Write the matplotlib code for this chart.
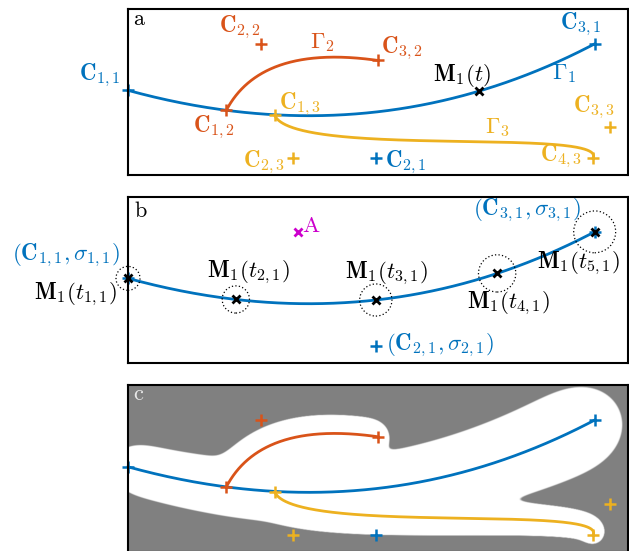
import numpy as np
import matplotlib
matplotlib.use("Agg")
import matplotlib.pyplot as plt
from matplotlib.patches import Circle
from math import comb

plt.rcParams['mathtext.fontset'] = 'cm'
plt.rcParams['font.family'] = 'serif'

BLUE = '#0072BD'
RED = '#D95319'
YELLOW = '#EDB120'
MAGENTA = '#CC00CC'
GRAY = '#808080'

# Bezier control points of the three trajectories (Gamma_1, Gamma_2, Gamma_3)
ctrl_1 = np.array([[0.00, 0.51], [1.49, 0.10], [2.80, 0.79]])
ctrl_2 = np.array([[0.59, 0.39], [0.80, 0.79], [1.50, 0.69]])
ctrl_3 = np.array([[0.88, 0.36], [0.99, 0.10], [2.89, 0.29], [2.79, 0.10]])

# spread attached to each control point
sigma_1 = np.array([0.072, 0.093, 0.126])
sigma_2 = np.array([0.055, 0.057, 0.050])
sigma_3 = np.array([0.056, 0.052, 0.046, 0.036])

# parameter values of the marked points on Gamma_1
t_single = 0.74
t_points = np.array([0.0, 0.22, 0.515, 0.78, 1.0])
point_A = np.array([1.02, 0.79])

# occupancy map threshold
field_level = 0.10


def bezier(ctrl, t):
    ctrl = np.asarray(ctrl, dtype=float)
    if ctrl.ndim == 1:
        ctrl = ctrl[:, None]
    n = len(ctrl) - 1
    t = np.atleast_1d(t)[:, None]
    out = np.zeros((t.shape[0], ctrl.shape[1]))
    for k in range(n + 1):
        out += comb(n, k) * t**k * (1 - t)**(n - k) * ctrl[k]
    return out


def tube_field(ctrl, sig, X, Y, n=400):
    """Gaussian line density along a Bezier curve with varying width."""
    t = np.linspace(0, 1, n)
    P = bezier(ctrl, t)
    S = bezier(sig, t)[:, 0]
    d = np.gradient(P, t, axis=0)
    ds = np.hypot(d[:, 0], d[:, 1]) * (t[1] - t[0])
    ds[0] *= 0.5
    ds[-1] *= 0.5
    F = np.zeros_like(X)
    for (px, py), s, w in zip(P, S, ds):
        F += w / (s * np.sqrt(2 * np.pi)) * np.exp(-((X - px)**2 + (Y - py)**2) / (2 * s * s))
    return F


curves = [(ctrl_1, sigma_1, BLUE), (ctrl_2, sigma_2, RED), (ctrl_3, sigma_3, YELLOW)]
tt = np.linspace(0, 1, 300)

fig = plt.figure(figsize=(6.29, 5.51), dpi=100)
W, H = 629.0, 551.0
left, width = 128 / W, 500 / W
ax_a = fig.add_axes([left, (H - 175) / H, width, 166 / H])
ax_b = fig.add_axes([left, (H - 363) / H, width, 166 / H])
ax_c = fig.add_axes([left, (H - 552) / H, width, 167 / H])

for ax in (ax_a, ax_b, ax_c):
    ax.set_xlim(0, 3)
    ax.set_ylim(0, 1)
    ax.set_xticks([])
    ax.set_yticks([])
    for sp in ax.spines.values():
        sp.set_linewidth(1.5)
        sp.set_color('black')
        sp.set_zorder(8)

FS = 16.5
mk = dict(marker='+', ms=9, mew=1.8, ls='none', clip_on=False, zorder=5)
xk = dict(marker='x', ms=6, mew=2, ls='none', clip_on=False, zorder=6)


def cb(i, j):
    return r'\mathbf{C}_{\mathbf{%d,%d}}' % (i, j)


def mb(sub):
    return r'$\mathbf{M}_{\mathbf{1}}(%s)$' % sub


# ---------- panel a ----------
ax = ax_a
for ctrl, sig, col in curves:
    P = bezier(ctrl, tt)
    ax.plot(P[:, 0], P[:, 1], color=col, lw=2, clip_on=False, zorder=3)
    ax.plot(ctrl[:, 0], ctrl[:, 1], color=col, **mk)
M = bezier(ctrl_1, t_single)[0]
ax.plot(M[0], M[1], color='black', **xk)

labels_a = [
    ('$' + cb(1, 1) + '$', -0.168, 0.60, BLUE),
    ('$' + cb(2, 1) + '$', 1.668, 0.078, BLUE),
    ('$' + cb(3, 1) + '$', 2.718, 0.906, BLUE),
    (r'$\Gamma_1$', 2.616, 0.612, BLUE),
    ('$' + cb(1, 2) + '$', 0.516, 0.288, RED),
    ('$' + cb(2, 2) + '$', 0.672, 0.888, RED),
    ('$' + cb(3, 2) + '$', 1.644, 0.762, RED),
    (r'$\Gamma_2$', 1.164, 0.798, RED),
    ('$' + cb(1, 3) + '$', 1.032, 0.426, YELLOW),
    ('$' + cb(2, 3) + '$', 0.816, 0.078, YELLOW),
    ('$' + cb(3, 3) + '$', 2.796, 0.408, YELLOW),
    ('$' + cb(4, 3) + '$', 2.598, 0.114, YELLOW),
    (r'$\Gamma_3$', 2.214, 0.288, YELLOW),
    (mb('t'), 2.004, 0.60, 'black'),
]
for s, x, y, c in labels_a:
    ax.text(x, y, s, color=c, fontsize=FS, ha='center', va='center', zorder=7)
ax.text(0.01, 0.905, r'$\mathrm{a}$', transform=ax.transAxes, fontsize=16,
        ha='left', va='baseline')

# ---------- panel b ----------
ax = ax_b
P = bezier(ctrl_1, tt)
ax.plot(P[:, 0], P[:, 1], color=BLUE, lw=2, clip_on=False, zorder=3)
ax.plot(ctrl_1[:, 0], ctrl_1[:, 1], color=BLUE, **mk)
pts = bezier(ctrl_1, t_points)
rad = bezier(sigma_1, t_points)[:, 0]
for (px, py), r in zip(pts, rad):
    ax.add_patch(Circle((px, py), r, fill=False, ec='black', lw=0.9,
                        ls=(0, (1.0, 1.8)), clip_on=False, zorder=4))
ax.plot(pts[:, 0], pts[:, 1], color='black', **xk)
ax.plot(point_A[0], point_A[1], color=MAGENTA, **xk)

labels_b = [
    ('$(' + cb(1, 1) + r',\sigma_{1,1})$', -0.372, 0.648, BLUE),
    ('$(' + cb(3, 1) + r',\sigma_{3,1})$', 2.394, 0.918, BLUE),
    ('$(' + cb(2, 1) + r',\sigma_{2,1})$', 1.870, 0.108, BLUE),
    (mb('t_{1,1}'), -0.318, 0.414, 'black'),
    (mb('t_{2,1}'), 0.72, 0.546, 'black'),
    (mb('t_{3,1}'), 1.548, 0.54, 'black'),
    (mb('t_{4,1}'), 2.28, 0.36, 'black'),
    (mb('t_{5,1}'), 2.70, 0.60, 'black'),
    (r'$\mathrm{A}$', 1.098, 0.828, MAGENTA),
]
for s, x, y, c in labels_b:
    ax.text(x, y, s, color=c, fontsize=FS, ha='center', va='center', zorder=7)
ax.text(0.012, 0.88, r'$\mathrm{b}$', transform=ax.transAxes, fontsize=16,
        ha='left', va='baseline')

# ---------- panel c ----------
ax = ax_c
ax.set_facecolor(GRAY)
nx, ny = 1000, 334
gx = (np.arange(nx) + 0.5) * 3.0 / nx
gy = (np.arange(ny) + 0.5) * 1.0 / ny
X, Y = np.meshgrid(gx, gy)
F = sum(tube_field(c, s, X, Y) for c, s, _ in curves)
alpha = np.clip((F - field_level) / 0.008 + 0.5, 0, 1)
rgba = np.ones((ny, nx, 4))
rgba[..., 3] = alpha
ax.imshow(rgba, extent=[0, 3, 0, 1], origin='lower', aspect='auto',
          interpolation='bilinear', zorder=1)
for ctrl, sig, col in curves:
    P = bezier(ctrl, tt)
    ax.plot(P[:, 0], P[:, 1], color=col, lw=2, clip_on=False, zorder=3)
    ax.plot(ctrl[:, 0], ctrl[:, 1], color=col, **mk)
ax.text(0.01, 0.91, r'$\mathrm{c}$', transform=ax.transAxes, fontsize=16,
        ha='left', va='baseline', color='#E8E8E8')

fig.savefig('out.png', dpi=100)
